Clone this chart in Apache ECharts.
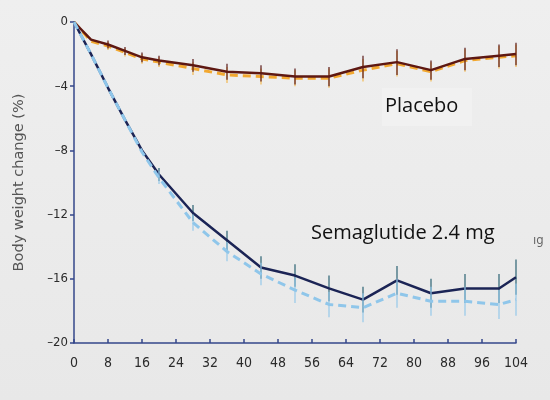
<!DOCTYPE html>
<html>
<head>
<meta charset="utf-8">
<script src="https://cdn.jsdelivr.net/npm/echarts@6/dist/echarts.min.js"></script>
<style>
  html, body { margin: 0; padding: 0; background: #ececec; }
  #chart { width: 550px; height: 400px; }
</style>
</head>
<body>
<div id="chart"></div>
<script>
// Study weeks at which body weight was measured
var weeks = [0, 4, 8, 12, 16, 20, 28, 36, 44, 52, 60, 68, 76, 84, 92, 100, 104];

// Mean change in body weight (%), semaglutide 2.4 mg
var semaOnTreatment = [0, -2.0, -4.1, -6.1, -8.0, -9.5, -11.9, -13.6, -15.3, -15.8, -16.6, -17.3, -16.1, -16.9, -16.6, -16.6, -15.9];
var semaOnTreatmentErr = [0, 0, 0, 0, 0, 0.4, 0.5, 0.6, 0.7, 0.7, 0.8, 0.8, 0.9, 0.9, 0.9, 0.9, 1.1];
var semaTrialProduct = [0, -2.0, -4.1, -6.1, -8.1, -9.7, -12.5, -14.3, -15.7, -16.7, -17.6, -17.8, -16.9, -17.4, -17.4, -17.6, -17.3];
var semaTrialProductErr = [0, 0, 0, 0, 0, 0.4, 0.5, 0.6, 0.7, 0.8, 0.8, 0.9, 0.9, 0.9, 0.9, 0.9, 1.0];

// Mean change in body weight (%), placebo
var placeboOnTreatment = [0, -1.1, -1.4, -1.8, -2.2, -2.4, -2.7, -3.1, -3.2, -3.4, -3.4, -2.8, -2.5, -3.0, -2.3, -2.1, -2.0];
var placeboOnTreatmentErr = [0, 0, 0.25, 0.25, 0.3, 0.3, 0.4, 0.5, 0.5, 0.5, 0.6, 0.7, 0.8, 0.6, 0.7, 0.7, 0.7];
var placeboTrialProduct = [0, -1.2, -1.5, -1.9, -2.3, -2.5, -2.9, -3.3, -3.4, -3.5, -3.5, -3.0, -2.6, -3.1, -2.4, -2.2, -2.1];

// Axis ticks
var xTicks = [0, 8, 16, 24, 32, 40, 48, 56, 64, 72, 80, 88, 96, 104];
var yTicks = [0, -4, -8, -12, -16, -20];

function pairs(values) {
  return weeks.map(function (w, i) { return [w, values[i]]; });
}

function errData(values, errs) {
  var out = [];
  weeks.forEach(function (w, i) {
    if (errs[i] > 0) out.push([w, values[i] - errs[i], values[i] + errs[i]]);
  });
  return out;
}

function errorBars(name, values, errs, color, width, z) {
  return {
    name: name,
    type: 'custom',
    z: z,
    silent: true,
    data: errData(values, errs),
    renderItem: function (params, api) {
      var lo = api.coord([api.value(0), api.value(1)]);
      var hi = api.coord([api.value(0), api.value(2)]);
      return {
        type: 'line',
        shape: { x1: lo[0], y1: lo[1], x2: hi[0], y2: hi[1] },
        style: { stroke: color, lineWidth: width }
      };
    }
  };
}

function lineSeries(name, values, color, width, dashed, z) {
  return {
    name: name,
    type: 'line',
    z: z,
    data: pairs(values),
    symbol: 'none',
    silent: true,
    lineStyle: { color: color, width: width, type: dashed ? [8, 5] : 'solid' }
  };
}

var axisBlue = '#34478a';
var tickFont = '"DejaVu Sans Condensed", "DejaVu Sans", sans-serif';

var chart = echarts.init(document.getElementById('chart'), null, { renderer: 'canvas' });

chart.setOption({
  animation: false,
  backgroundColor: {
    type: 'linear', x: 0, y: 0, x2: 0, y2: 1,
    colorStops: [{ offset: 0, color: '#efefef' }, { offset: 1, color: '#e8e8e8' }]
  },
  grid: { left: 74, right: 34, top: 22, bottom: 57, containLabel: false },
  xAxis: {
    type: 'value',
    min: 0,
    max: 104,
    interval: 8,
    axisLine: { onZero: false, lineStyle: { color: axisBlue, width: 1.5 } },
    axisTick: { inside: true, length: 4, lineStyle: { color: axisBlue, width: 1.5 } },
    splitLine: { show: false },
    axisLabel: {
      margin: 13,
      color: '#2b2b2b',
      fontSize: 14,
      fontFamily: tickFont,
      formatter: function (v) { return xTicks.indexOf(v) >= 0 ? String(v) : ''; }
    }
  },
  yAxis: {
    type: 'value',
    min: -20,
    max: 0,
    interval: 4,
    name: 'Body weight change (%)',
    nameLocation: 'middle',
    nameRotate: 90,
    nameGap: 47,
    nameTextStyle: { color: '#555', fontSize: 14.5, fontFamily: '"DejaVu Sans", sans-serif' },
    axisLine: { show: true, onZero: false, lineStyle: { color: axisBlue, width: 1.5 } },
    axisTick: { show: true, length: 4, lineStyle: { color: axisBlue, width: 1.5 } },
    splitLine: { show: false },
    axisLabel: {
      margin: 6,
      color: '#2b2b2b',
      fontSize: 13,
      fontFamily: tickFont,
      formatter: function (v) {
        if (yTicks.indexOf(v) < 0) return '';
        return v < 0 ? '\u2013' + Math.abs(v) : String(v);
      }
    }
  },
  graphic: [
    {
      type: 'rect', z: 1,
      shape: { x: 382, y: 88, width: 90, height: 38 },
      style: { fill: '#f1f1f1' }
    },
    {
      type: 'text', z: 100,
      style: {
        text: 'Placebo', x: 385, y: 106, textVerticalAlign: 'middle',
        font: '20px "Open Sans", sans-serif', fill: '#111'
      }
    },
    {
      type: 'text', z: 100,
      style: {
        text: 'Semaglutide 2.4 mg', x: 311, y: 233, textVerticalAlign: 'middle',
        font: '20px "Open Sans", sans-serif', fill: '#111'
      }
    },
    {
      type: 'text', z: 100,
      style: {
        text: 'ıg', x: 533, y: 241, textVerticalAlign: 'middle',
        font: '13px "DejaVu Sans Condensed", sans-serif', fill: '#666'
      }
    }
  ],
  series: [
    lineSeries('Placebo (trial product)', placeboTrialProduct, '#f2a830', 3, true, 2),
    errorBars('Placebo (trial product) SE', placeboTrialProduct, placeboOnTreatmentErr, '#f2b850', 1.2, 2),
    lineSeries('Placebo (on treatment)', placeboOnTreatment, '#5e1812', 2.5, false, 3),
    errorBars('Placebo (on treatment) SE', placeboOnTreatment, placeboOnTreatmentErr, '#5a1a1a', 1.2, 3),
    errorBars('Semaglutide (on treatment) SE', semaOnTreatment, semaOnTreatmentErr, '#2a6272', 1.2, 3),
    lineSeries('Semaglutide (on treatment)', semaOnTreatment, '#1b2455', 2.5, false, 4),
    errorBars('Semaglutide (trial product) SE', semaTrialProduct, semaTrialProductErr, '#94c8ea', 1.2, 5),
    lineSeries('Semaglutide (trial product)', semaTrialProduct, '#8fc6ea', 3, true, 5)
  ]
});
</script>
</body>
</html>
